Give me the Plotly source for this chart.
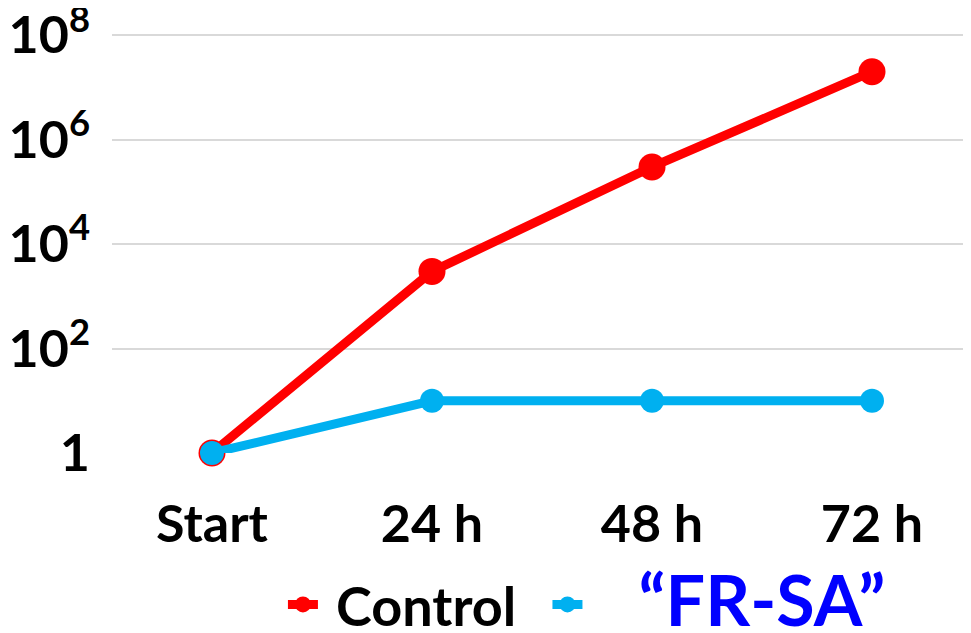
import plotly.graph_objects as go

categories = ["Start", "24 h", "48 h", "72 h"]
control = [1, 3000, 3e5, 2e7]
frsa = [1, 10, 10, 10]
ytick_vals = [1, 1e2, 1e4, 1e6, 1e8]
ytick_text = ["1", "10<sup>2</sup>", "10<sup>4</sup>", "10<sup>6</sup>", "10<sup>8</sup>"]

FONT = "Lato"
NB = "\u00a0"

fig = go.Figure()
fig.add_trace(go.Scatter(
    x=categories, y=control, mode="lines+markers", name=NB + "Control" + NB * 2,
    line=dict(color="#FF0000", width=9),
    marker=dict(color="#FF0000", size=27),
    cliponaxis=False,
))
fig.add_trace(go.Scatter(
    x=categories, y=frsa, mode="lines+markers",
    name='<span style="color:#0000FF;font-size:70px">' + NB * 3 + '“FR-SA”</span>',
    line=dict(color="#00B0F0", width=9),
    marker=dict(color="#00B0F0", size=24),
    cliponaxis=False,
))

# page body has an 8px offset, so the figure is drawn 8px smaller
fig.update_layout(
    width=963, height=625,
    margin=dict(l=104, r=0, t=22, b=180, autoexpand=False),
    plot_bgcolor="white", paper_bgcolor="white",
    font=dict(family=FONT, color="black"),
    showlegend=True,
    legend=dict(
        orientation="h", x=0.199, y=-0.359, xanchor="left", yanchor="middle",
        font=dict(family=FONT, size=54, color="black", weight="bold"),
        itemsizing="trace", tracegroupgap=0,
    ),
    xaxis=dict(
        type="category", range=[-0.4545, 3.45],
        showgrid=False, showline=False, zeroline=False, ticks="",
        tickfont=dict(family=FONT, size=52, color="black", weight="bold"),
        ticklabelstandoff=36,
    ),
    yaxis=dict(
        type="log", range=[0, 8.1],
        tickvals=ytick_vals, ticktext=ytick_text,
        showgrid=True, gridcolor="#D9D9D9", gridwidth=2,
        showline=False, zeroline=False, ticks="",
        tickfont=dict(family=FONT, size=52, color="black", weight="bold"),
        ticklabelstandoff=21, ticklabeloverflow="allow",
    ),
)

fig.write_html("out.html")
